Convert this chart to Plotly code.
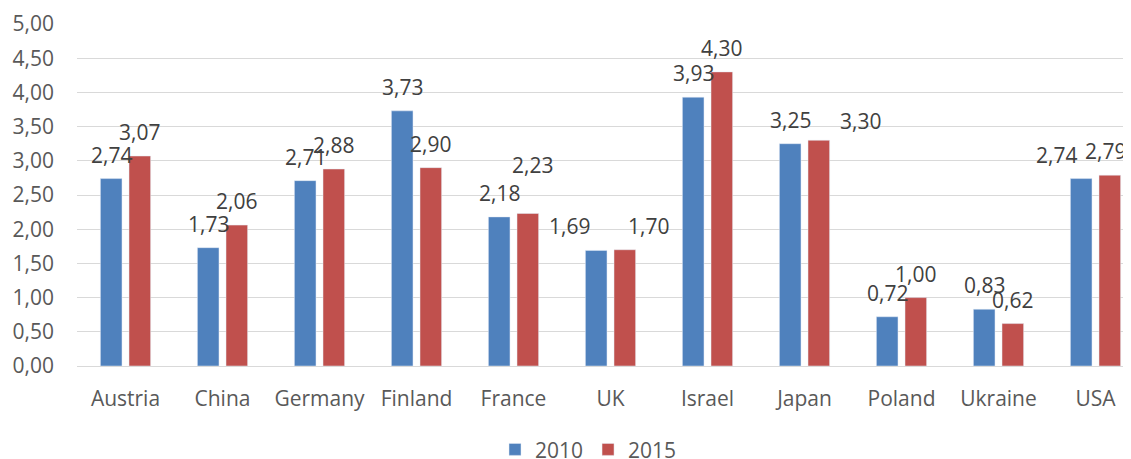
import plotly.graph_objects as go

countries = ["Austria", "China", "Germany", "Finland", "France", "UK",
             "Israel", "Japan", "Poland", "Ukraine", "USA"]
v2010 = [2.74, 1.73, 2.71, 3.73, 2.18, 1.69, 3.93, 3.25, 0.72, 0.83, 2.74]
v2015 = [3.07, 2.06, 2.88, 2.90, 2.23, 1.70, 4.30, 3.30, 1.00, 0.62, 2.79]
y_ticks = [0, 0.5, 1, 1.5, 2, 2.5, 3, 3.5, 4, 4.5, 5]

# manual label nudges (pixels) mimicking the reference layout
dx2010 = [0, 0, 0, 0, 0, -27, 0, 0, 0, 0, -25]
dy2010 = [0, 0, 0, 0, 0, 0, 0, 0, 0, 0, 0]
dx2015 = [0, 0, 0, 0, 5, 24, 0, 42, 0, 0, -4]
dy2015 = [0, 0, 0, 0, 24, 0, 0, -5, 0, 0, 0]

BLUE = "#4F81BD"
RED = "#C0504D"
FONT = "Open Sans"
FS = 21

def fmt(v):
    return f"{v:.2f}".replace(".", ",")

fig = go.Figure()
fig.add_trace(go.Bar(x=countries, y=v2010, name="2010", marker_color=BLUE))
fig.add_trace(go.Bar(x=countries, y=v2015, name="2015", marker_color=RED))

# page body has an 8px margin, so the figure is 8px smaller than the window
W = 1123
H = 451
plot_left = 69
step = 97.0
xmax = -0.5 + (W - plot_left) / step
off = step * (1 - 0.41) / 4  # bar center offset from category center

annots = []
for i, c in enumerate(countries):
    annots.append(dict(x=c, y=v2010[i], text=fmt(v2010[i]), showarrow=False,
                       xshift=-off + dx2010[i], yshift=24 + dy2010[i],
                       yanchor="middle", xanchor="center",
                       font=dict(family=FONT, size=FS, color="#404040")))
    annots.append(dict(x=c, y=v2015[i], text=fmt(v2015[i]), showarrow=False,
                       xshift=off + dx2015[i], yshift=24 + dy2015[i],
                       yanchor="middle", xanchor="center",
                       font=dict(family=FONT, size=FS, color="#404040")))

fig.update_layout(
    width=W, height=H,
    margin=dict(l=plot_left, r=0, t=16, b=93),
    paper_bgcolor="white", plot_bgcolor="white",
    barmode="group", bargap=0.41, bargroupgap=0.245,
    font=dict(family=FONT, size=FS, color="#595959"),
    annotations=annots,
    legend=dict(orientation="h", xref="container", yref="container",
                x=487 / W, xanchor="left", y=0.066, yanchor="top",
                font=dict(family=FONT, size=FS, color="#595959"),
                itemwidth=30),
    showlegend=True,
)
fig.update_xaxes(range=[-0.5, xmax], showgrid=False, showline=False,
                 zeroline=False, ticks="", ticklabelstandoff=18,
                 tickfont=dict(family=FONT, size=FS, color="#595959"))
fig.update_yaxes(range=[0, 5], tickvals=y_ticks,
                 ticktext=[fmt(t) for t in y_ticks],
                 showgrid=True, gridcolor="#D9D9D9", gridwidth=1.3,
                 zeroline=True, zerolinecolor="#D9D9D9", zerolinewidth=1.3,
                 showline=False, ticks="", ticklabelstandoff=22,
                 tickfont=dict(family=FONT, size=FS, color="#595959"))

fig.write_html("out.html")
